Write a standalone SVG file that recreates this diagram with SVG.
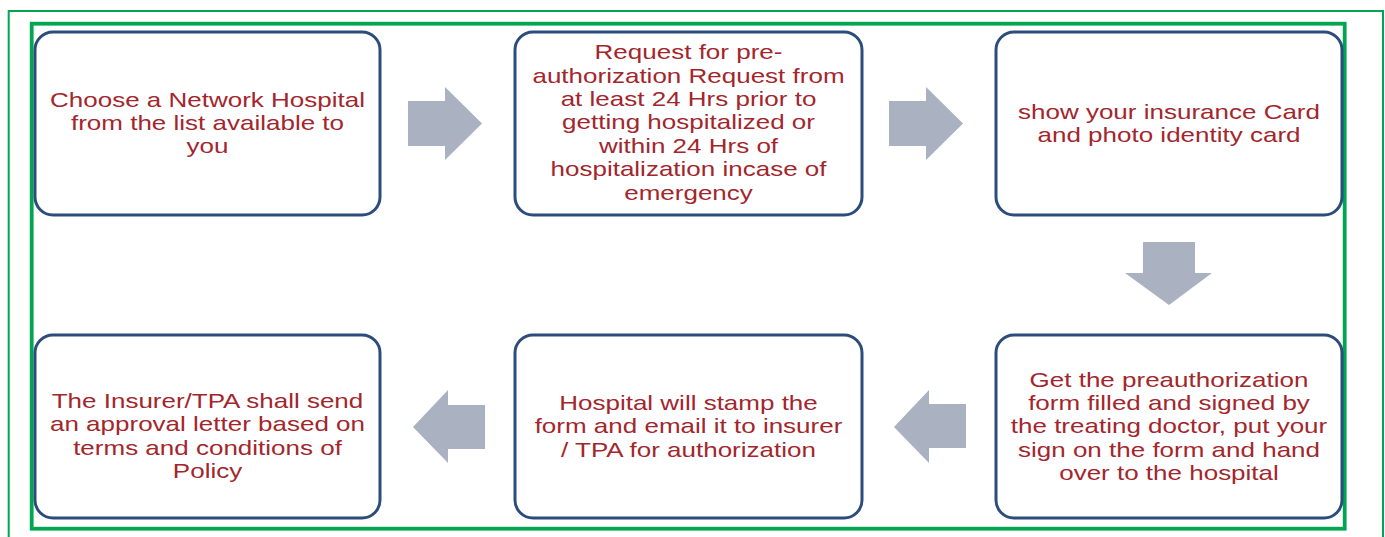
<svg xmlns="http://www.w3.org/2000/svg" width="1385" height="537" viewBox="0 0 1385 537">
<style>
.box{fill:#ffffff;stroke:#2c4c7c;stroke-width:3}
.lbl{font-family:"Liberation Sans",Arial,sans-serif;font-size:20px;fill:#a3262c;text-anchor:middle}
.arw{fill:#aab1c1;stroke:none}
.frame-outer{fill:none;stroke:#00a550;stroke-width:2}
.frame-inner{fill:none;stroke:#00a550;stroke-width:3.8}
</style>
<rect x="0" y="0" width="1385" height="537" fill="#ffffff"/>
<rect class="frame-outer" x="8.7" y="11" width="1374.3" height="540"/>
<rect class="frame-inner" x="31.7" y="23.7" width="1313" height="505"/>

<g id="connectors">
  <polygon class="arw" points="408,101 445,101 445,87 482,123.5 445,160 445,146 408,146"/>
  <polygon class="arw" points="889,101 926,101 926,87 963,123.5 926,160 926,146 889,146"/>
  <polygon class="arw" points="1143,242 1195,242 1195,273 1212,273 1169,305 1125,273 1143,273"/>
  <polygon class="arw" points="966,404 929,404 929,390 894,427 929,463 929,448 966,448"/>
  <polygon class="arw" points="485,405 448,405 448,390 413,427 448,463 448,449 485,449"/>
</g>

<g id="node1">
  <rect class="box" x="35" y="32" width="345" height="183" rx="18"/>
  <g transform="translate(207.5 0) scale(1.3 1)">
    <text class="lbl" x="0" y="107">Choose a Network Hospital</text>
    <text class="lbl" x="0" y="130">from the list available to</text>
    <text class="lbl" x="0" y="153.5">you</text>
  </g>
</g>

<g id="node2">
  <rect class="box" x="515" y="32" width="347" height="183" rx="18"/>
  <g transform="translate(688.5 0) scale(1.3 1)">
    <text class="lbl" x="0" y="59.5">Request for pre-</text>
    <text class="lbl" x="0" y="83">authorization Request from</text>
    <text class="lbl" x="0" y="106">at least 24 Hrs prior to</text>
    <text class="lbl" x="0" y="129.5">getting hospitalized or</text>
    <text class="lbl" x="0" y="153">within 24 Hrs of</text>
    <text class="lbl" x="0" y="176.5">hospitalization incase of</text>
    <text class="lbl" x="0" y="200">emergency</text>
  </g>
</g>

<g id="node3">
  <rect class="box" x="996" y="32" width="346" height="183" rx="18"/>
  <g transform="translate(1169 0) scale(1.3 1)">
    <text class="lbl" x="0" y="119">show your insurance Card</text>
    <text class="lbl" x="0" y="142">and photo identity card</text>
  </g>
</g>

<g id="node4">
  <rect class="box" x="996" y="335" width="346" height="183" rx="18"/>
  <g transform="translate(1169 0) scale(1.3 1)">
    <text class="lbl" x="0" y="387">Get the preauthorization</text>
    <text class="lbl" x="0" y="410">form filled and signed by</text>
    <text class="lbl" x="0" y="433.5">the treating doctor, put your</text>
    <text class="lbl" x="0" y="457">sign on the form and hand</text>
    <text class="lbl" x="0" y="480">over to the hospital</text>
  </g>
</g>

<g id="node5">
  <rect class="box" x="515" y="335" width="347" height="183" rx="18"/>
  <g transform="translate(688.5 0) scale(1.3 1)">
    <text class="lbl" x="0" y="410">Hospital will stamp the</text>
    <text class="lbl" x="0" y="433.5">form and email it to insurer</text>
    <text class="lbl" x="0" y="457">/ TPA for authorization</text>
  </g>
</g>

<g id="node6">
  <rect class="box" x="35" y="335" width="345" height="183" rx="18"/>
  <g transform="translate(207.5 0) scale(1.3 1)">
    <text class="lbl" x="0" y="408">The Insurer/TPA shall send</text>
    <text class="lbl" x="0" y="431.5">an approval letter based on</text>
    <text class="lbl" x="0" y="455">terms and conditions of</text>
    <text class="lbl" x="0" y="478.5">Policy</text>
  </g>
</g>
</svg>
